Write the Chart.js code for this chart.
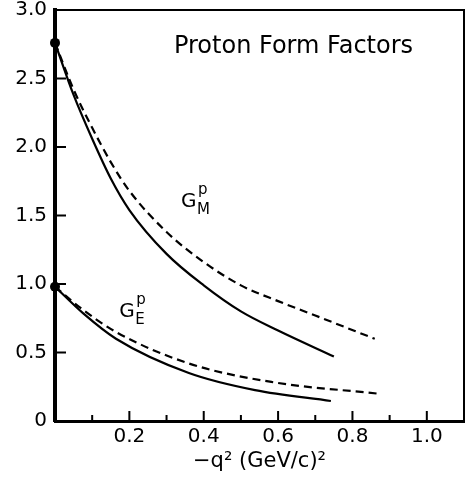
<!DOCTYPE html>
<html>
<head>
<meta charset="utf-8">
<script src="https://cdn.jsdelivr.net/npm/chart.js@4.4.0/dist/chart.umd.min.js"></script>
<style>
html,body{margin:0;padding:0;background:#fff;}
#wrap{width:469px;height:483px;}
</style>
</head>
<body>
<div id="wrap"><canvas id="c" width="469" height="483"></canvas></div>
<script>
// ---- data ----
const gmSolidX = [0, 0.05, 0.10, 0.15, 0.20, 0.30, 0.40, 0.50, 0.60, 0.75];
const gmSolidY = [2.76, 2.38, 2.06, 1.77, 1.54, 1.22, 0.99, 0.80, 0.66, 0.47];
const gmDashX  = [0, 0.05, 0.10, 0.15, 0.20, 0.30, 0.40, 0.50, 0.60, 0.70, 0.86];
const gmDashY  = [2.76, 2.42, 2.14, 1.89, 1.68, 1.38, 1.16, 0.99, 0.875, 0.77, 0.60];
const geSolidX = [0, 0.076, 0.164, 0.360, 0.538, 0.742];
const geSolidY = [0.98, 0.785, 0.60, 0.35, 0.225, 0.146];
const geDashX  = [0, 0.076, 0.164, 0.360, 0.582, 0.867];
const geDashY  = [0.98, 0.81, 0.65, 0.42, 0.285, 0.20];
const dotX = [0, 0];
const dotY = [2.76, 0.98];

const xMajorTicks = [0.2, 0.4, 0.6, 0.8, 1.0];
const xMinorTicks = [0.1, 0.3, 0.5, 0.7, 0.9];
const xTickLabels = ['0.2', '0.4', '0.6', '0.8', '1.0'];
const yTickValues = [0, 0.5, 1.0, 1.5, 2.0, 2.5, 3.0];
const yTickLabels = ['0', '0.5', '1.0', '1.5', '2.0', '2.5', '3.0'];

const titleText = 'Proton Form Factors';
const titlePos = [0.32, 2.686];
const gmLabelPos = [0.339, 1.56];
const geLabelPos = [0.173, 0.757];
const xAxisTitle = '\u2212q\u00B2 (GeV/c)\u00B2';

const FONT = '"DejaVu Sans", sans-serif';

function pts(xs, ys) { return xs.map((x, i) => ({x: x, y: ys[i]})); }

const lineBase = {
  showLine: true, pointRadius: 0, borderColor: '#000', borderWidth: 2.2,
  cubicInterpolationMode: 'monotone', fill: false
};

const decor = {
  id: 'decor',
  afterDraw(chart) {
    const ctx = chart.ctx, a = chart.chartArea;
    const xs = chart.scales.x, ys = chart.scales.y;
    ctx.save();
    ctx.strokeStyle = '#000';
    ctx.fillStyle = '#000';
    ctx.lineWidth = 2;
    ctx.beginPath();
    ctx.moveTo(a.left, a.top); ctx.lineTo(a.right, a.top); ctx.lineTo(a.right, a.bottom);
    ctx.stroke();
    ctx.lineWidth = 2;
    ctx.beginPath();
    yTickValues.forEach(v => {
      if (v === 0 || v === 3.0) return;
      const y = ys.getPixelForValue(v);
      ctx.moveTo(a.left, y); ctx.lineTo(a.left + 11, y);
    });
    xMajorTicks.forEach(v => {
      const x = xs.getPixelForValue(v);
      ctx.moveTo(x, a.bottom); ctx.lineTo(x, a.bottom - 10);
    });
    xMinorTicks.forEach(v => {
      const x = xs.getPixelForValue(v);
      ctx.moveTo(x, a.bottom); ctx.lineTo(x, a.bottom - 6);
    });
    ctx.stroke();
    ctx.textBaseline = 'alphabetic';
    ctx.textAlign = 'left';
    ctx.font = '24px ' + FONT;
    ctx.fillText(titleText, xs.getPixelForValue(titlePos[0]), ys.getPixelForValue(titlePos[1]));
    function glabel(pos, sub) {
      const gx = xs.getPixelForValue(pos[0]), gy = ys.getPixelForValue(pos[1]);
      ctx.font = '20px ' + FONT;
      ctx.fillText('G', gx, gy);
      ctx.font = '15px ' + FONT;
      ctx.fillText('p', gx + 17, gy - 13);
      ctx.fillText(sub, gx + 16, gy + 7);
    }
    glabel(gmLabelPos, 'M');
    glabel(geLabelPos, 'E');
    ctx.restore();
  }
};

new Chart(document.getElementById('c'), {
  type: 'scatter',
  data: {
    datasets: [
      Object.assign({}, lineBase, {data: pts(gmSolidX, gmSolidY)}),
      Object.assign({}, lineBase, {data: pts(gmDashX, gmDashY), borderDash: [8, 5]}),
      Object.assign({}, lineBase, {data: pts(geSolidX, geSolidY)}),
      Object.assign({}, lineBase, {data: pts(geDashX, geDashY), borderDash: [8, 5]}),
      {data: pts(dotX, dotY), showLine: false, pointRadius: 5, pointBackgroundColor: '#000',
       pointBorderColor: '#000', pointBorderWidth: 0, clip: false}
    ]
  },
  options: {
    responsive: false,
    animation: false,
    devicePixelRatio: 1,
    layout: {padding: {top: 10, right: 2, left: 0, bottom: 0}},
    plugins: {legend: {display: false}, tooltip: {enabled: false}},
    scales: {
      x: {
        type: 'linear', min: 0, max: 1.1,
        afterFit(s) { s.height = 62; s.paddingLeft = 0; s.paddingRight = 0; },
        afterBuildTicks(s) { s.ticks = xMajorTicks.map(v => ({value: v})); },
        grid: {display: false, drawTicks: false},
        border: {display: true, color: '#000', width: 3},
        ticks: {
          autoSkip: false, maxRotation: 0, padding: 4, color: '#000',
          font: {family: FONT, size: 20},
          callback(v) { const i = xMajorTicks.findIndex(t => Math.abs(t - v) < 1e-6); return i >= 0 ? xTickLabels[i] : ''; }
        },
        title: {display: true, text: xAxisTitle, color: '#000', font: {family: FONT, size: 21}, padding: {top: 0, bottom: 9}}
      },
      y: {
        type: 'linear', min: 0, max: 3.0,
        afterFit(s) { s.width = 55; s.paddingTop = 0; s.paddingBottom = 0; },
        afterBuildTicks(s) { s.ticks = yTickValues.map(v => ({value: v})); },
        grid: {display: false, drawTicks: false},
        border: {display: true, color: '#000', width: 4},
        ticks: {
          autoSkip: false, padding: 8, color: '#000',
          font: {family: FONT, size: 20},
          callback(v) { const i = yTickValues.findIndex(t => Math.abs(t - v) < 1e-6); return i >= 0 ? yTickLabels[i] : ''; }
        }
      }
    }
  },
  plugins: [decor]
});
</script>
</body>
</html>
